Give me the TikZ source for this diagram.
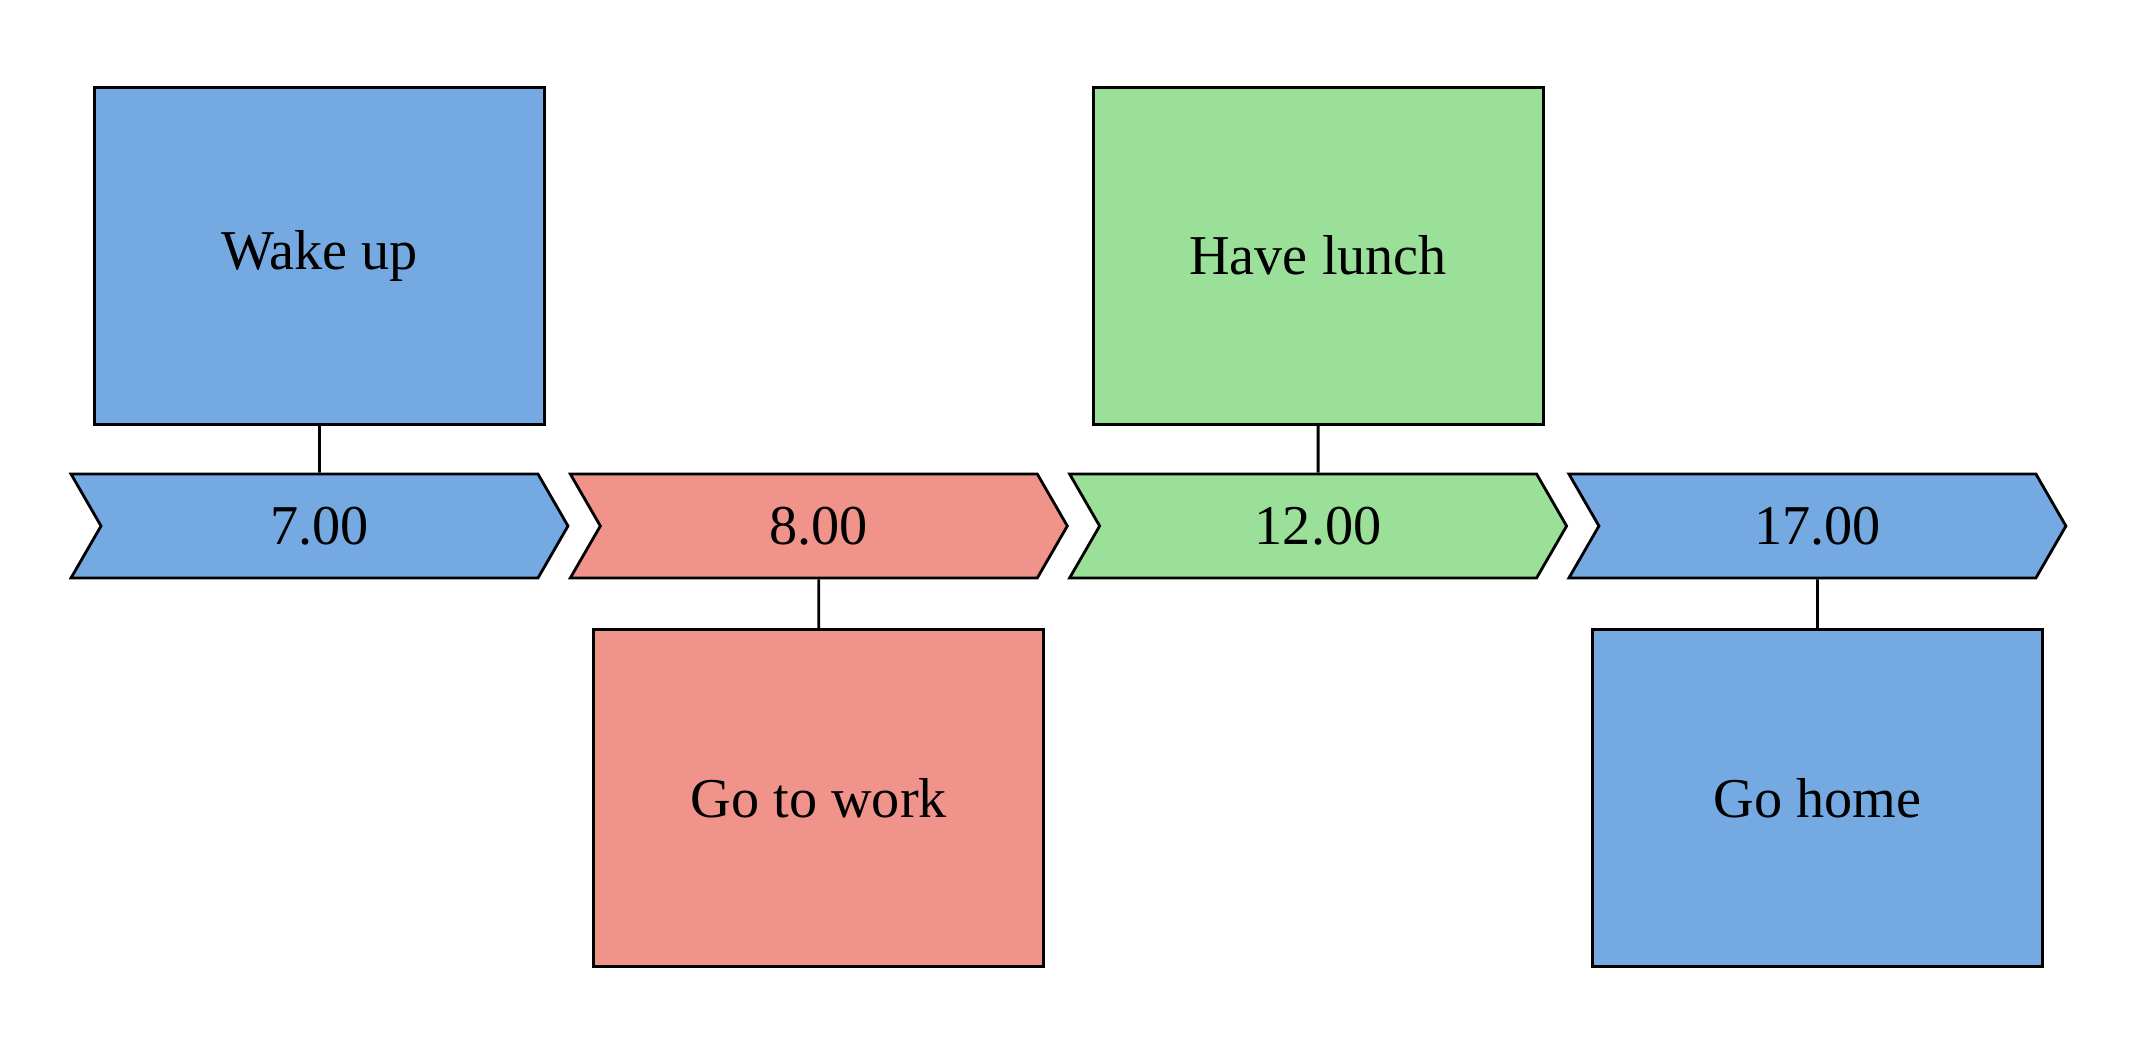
\documentclass[tikz,border=0pt]{standalone}
\usepackage{fontspec}
\setmainfont{Liberation Serif}
\usepackage{tikz}
\usetikzlibrary{positioning}
\usetikzlibrary{shapes.symbols}

\definecolor{evblue}{RGB}{117,169,225}
\definecolor{evred}{RGB}{240,147,139}
\definecolor{evgreen}{RGB}{154,224,152}

\begin{document}
\begin{tikzpicture}[font=\fontsize{16}{19}\selectfont]
\useasboundingbox (0,0) rectangle (21.42,10.42);
\tikzset{
  slot/.style={draw, thick, signal, signal to=east, signal from=west,
    signal pointer angle=120, minimum width=4.97cm, minimum height=1.04cm, inner sep=0pt},
  event/.style={draw, thick, minimum width=4.5cm, minimum height=3.37cm},
}

\foreach \i/\t/\e/\c/\p/\g in {0/7.00/Wake up/evblue/above/0.47, 1/8.00/Go to work/evred/below/0.49,
    2/12.00/Have lunch/evgreen/above/0.47, 3/17.00/Go home/evblue/below/0.49} {
  \node[slot, fill=\c] (t\i) at (3.195+4.993*\i, 5.16) {\t};
  \node[event, fill=\c, \p=\g cm of t\i] (e\i) {\e};
  \draw[thick] (e\i) -- (t\i);
}

\end{tikzpicture}
\end{document}
